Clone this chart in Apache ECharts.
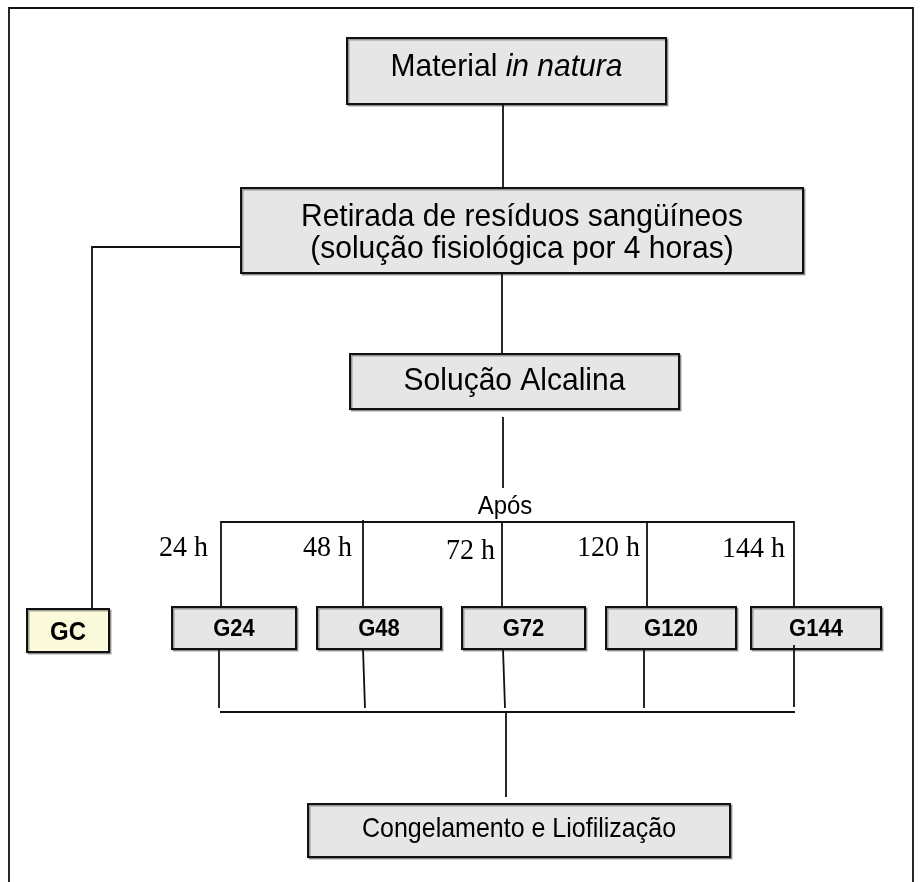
<!DOCTYPE html>
<html>
<head>
<meta charset="utf-8">
<style>
  html, body { margin: 0; padding: 0; background: #fff; }
  #chart { width: 922px; height: 882px; }
</style>
<script src="https://cdn.jsdelivr.net/npm/echarts@6/dist/echarts.min.js"></script>
</head>
<body>
<div id="chart"></div>
<script>
// diagram units: x to the right, y downwards (same scale as the figure)
const stepLabels = [
  '{r|Material }{i|in natura}',
  'Retirada de resíduos sangüíneos\n(solução fisiológica por 4 horas)',
  'Solução Alcalina',
  'Congelamento e Liofilização'
];
const stepBoxes = [[347, 38, 666, 104], [241, 188, 803, 273], [350, 354, 679, 409], [308, 804, 730, 857]];

const groupLabels = ['GC', 'G24', 'G48', 'G72', 'G120', 'G144'];
const groupBoxes = [[27, 609, 109, 652], [172, 607, 296, 649], [317, 607, 441, 649],
  [462, 607, 585, 649], [606, 607, 736, 649], [751, 607, 881, 649]];

const hourLabels = ['24 h', '48 h', '72 h', '120 h', '144 h'];
const hourAnchors = [[208, 548], [352, 548], [495, 551], [640, 548], [785, 549]];

const afterLabel = 'Após';
const afterAnchor = [505, 507];

const connectors = [
  [[9, 882], [9, 8], [913, 8], [913, 882]],
  [[503, 104], [503, 188]],
  [[502, 273], [502, 354]],
  [[241, 247], [92, 247], [92, 609]],
  [[503, 417], [503, 488]],
  [[221, 607], [221, 522], [794, 522], [794, 607]],
  [[363, 520], [363, 607]],
  [[502, 522], [502, 607]],
  [[647, 522], [647, 607]],
  [[219, 649], [219, 708]],
  [[363, 649], [365, 708]],
  [[503, 649], [505, 708]],
  [[644, 649], [644, 708]],
  [[794, 645], [794, 707]],
  [[220, 712], [795, 712]],
  [[506, 712], [506, 797]]
];

const SANS = '"Liberation Sans", Arial, sans-serif';
const SERIF = '"Liberation Serif", "Times New Roman", serif';
const STRETCH = 1.07; // the scanned figure is a little taller than wide

function boxRenderer(labels, kind) {
  return function (params, api) {
    const p0 = api.coord([api.value(0), api.value(1)]);
    const p1 = api.coord([api.value(2), api.value(3)]);
    const i = params.dataIndex;
    let fill = '#e6e6e6', textStyle, dy;
    if (kind === 'step') {
      const fs = i === 3 ? 25 : 30;
      dy = [-4, 3, 0, -1][i];
      textStyle = {
        text: labels[i], fontFamily: SANS, fontSize: fs, lineHeight: 30, fill: '#000',
        rich: {
          r: { fontFamily: SANS, fontSize: fs, fill: '#000' },
          i: { fontFamily: SANS, fontSize: fs, fontStyle: 'italic', fill: '#000' }
        }
      };
    } else {
      dy = 2;
      if (i === 0) fill = '#fbfbdc';
      textStyle = {
        text: labels[i], fontFamily: SANS, fontWeight: 'bold',
        fontSize: i === 0 ? 24 : 22, fill: '#000'
      };
    }
    textStyle.align = 'center';
    textStyle.verticalAlign = 'middle';
    return {
      type: 'group',
      children: [
        {
          type: 'rect',
          shape: { x: p0[0], y: p0[1], width: p1[0] - p0[0], height: p1[1] - p0[1] },
          style: {
            fill: fill, stroke: '#111', lineWidth: 2,
            shadowColor: 'rgba(0,0,0,0.35)', shadowOffsetX: 1.5, shadowOffsetY: 1.5, shadowBlur: 0
          }
        },
        {
          type: 'text',
          x: (p0[0] + p1[0]) / 2,
          y: (p0[1] + p1[1]) / 2 + dy,
          scaleY: STRETCH,
          style: textStyle
        }
      ]
    };
  };
}

const chart = echarts.init(document.getElementById('chart'));
chart.setOption({
  animation: false,
  backgroundColor: '#fff',
  grid: { left: 0, right: 0, top: 0, bottom: 0 },
  xAxis: { type: 'value', min: 0, max: 922, show: false },
  yAxis: { type: 'value', min: 0, max: 882, inverse: true, show: false },
  series: [
    {
      type: 'custom',
      name: 'steps',
      silent: true,
      z: 2,
      encode: { x: [0, 2], y: [1, 3] },
      renderItem: boxRenderer(stepLabels, 'step'),
      data: stepBoxes
    },
    {
      type: 'custom',
      name: 'groups',
      silent: true,
      z: 2,
      encode: { x: [0, 2], y: [1, 3] },
      renderItem: boxRenderer(groupLabels, 'group'),
      data: groupBoxes
    },
    {
      type: 'lines',
      coordinateSystem: 'cartesian2d',
      polyline: true,
      silent: true,
      z: 3,
      lineStyle: { color: '#111', width: 1.8, opacity: 1 },
      data: connectors.map(c => ({ coords: c }))
    },
    {
      type: 'custom',
      name: 'hours',
      silent: true,
      z: 4,
      renderItem: function (params, api) {
        const p = api.coord([api.value(0), api.value(1)]);
        return {
          type: 'text', x: p[0], y: p[1], scaleY: STRETCH,
          style: {
            text: hourLabels[params.dataIndex], fontFamily: SERIF, fontSize: 28,
            fill: '#000', align: 'right', verticalAlign: 'middle'
          }
        };
      },
      data: hourAnchors
    },
    {
      type: 'custom',
      name: 'after',
      silent: true,
      z: 4,
      renderItem: function (params, api) {
        const p = api.coord([api.value(0), api.value(1)]);
        return {
          type: 'text', x: p[0], y: p[1], scaleY: STRETCH,
          style: {
            text: afterLabel, fontFamily: SANS, fontSize: 24,
            fill: '#000', align: 'center', verticalAlign: 'middle'
          }
        };
      },
      data: [afterAnchor]
    }
  ]
});
</script>
</body>
</html>
